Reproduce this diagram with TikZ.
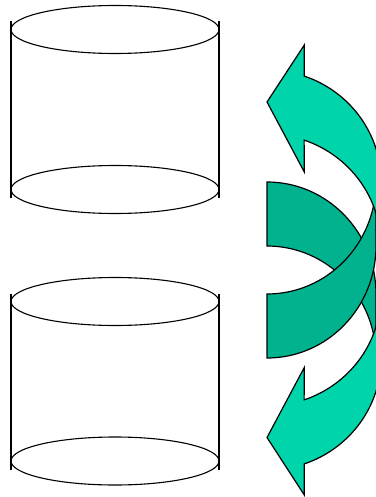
\documentclass[tikz,border=0pt]{standalone}
\usepackage{tikz}
\usepackage{xcolor}

\definecolor{tealLight}{RGB}{0,212,170}
\definecolor{tealDark}{RGB}{0,178,142}

\begin{document}
\begin{tikzpicture}[x=1pt, y=-1pt,
  rim/.style={draw=black, line width=1.1pt},
  wall/.style={draw=black, line width=1.3pt},
  ribbon/.style={draw=black, line width=1.2pt, line join=miter}]
\useasboundingbox (0,0) rectangle (375,497);

% two drums
\foreach \ytop/\ybot in {29.5/189.5, 301.5/461}{
  \draw[rim] (115,\ytop) ellipse [x radius=104, y radius=24];
  \draw[rim] (115,\ybot) ellipse [x radius=104, y radius=24];
  \draw[wall] (11,\ytop-8) -- (11,\ybot+8.5);
  \draw[wall] (219,\ytop-8) -- (219,\ybot+8.5);
}

% lower arrow, back side
\draw[ribbon, fill=tealDark] (267,182)
  arc[start angle=-90, end angle=0, x radius=109, y radius=112]
  -- (376,358)
  arc[start angle=0, end angle=-90, x radius=109, y radius=112]
  -- cycle;
% lower arrow, front with head
\draw[ribbon, fill=tealLight] (304.3,463.9)
  arc[start angle=71, end angle=0, x radius=114, y radius=112]
  -- (381,294)
  arc[start angle=0, end angle=71, x radius=114, y radius=112]
  -- (304.3,367.5) -- (267,437.5) -- (304.3,495) -- cycle;

% upper arrow, back side
\draw[ribbon, fill=tealDark] (267,294)
  arc[start angle=90, end angle=0, x radius=109, y radius=112]
  -- (376,246)
  arc[start angle=0, end angle=90, x radius=109, y radius=112]
  -- cycle;
% upper arrow, front with head
\draw[ribbon, fill=tealLight] (304.3,76.1)
  arc[start angle=-71, end angle=0, x radius=114, y radius=112]
  -- (381,246)
  arc[start angle=0, end angle=-71, x radius=114, y radius=112]
  -- (304.3,172) -- (267,102) -- (304.3,45) -- cycle;
\end{tikzpicture}
\end{document}
